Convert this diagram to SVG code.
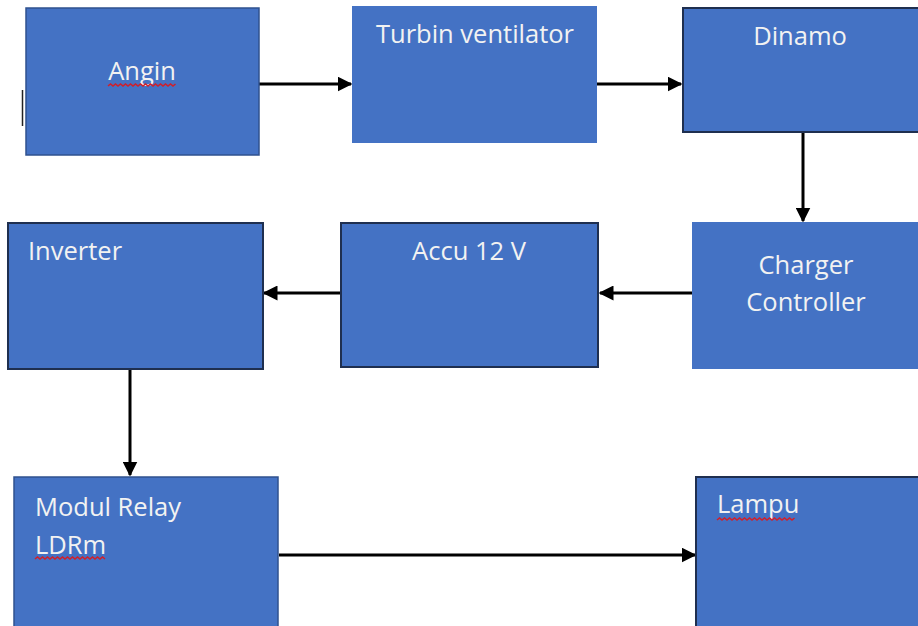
<svg xmlns="http://www.w3.org/2000/svg" width="918" height="626" viewBox="0 0 918 626">
<defs>
<style>
.box{fill:#4472C4}
.bd{stroke:#1f2f4f;stroke-width:2}
.bl{stroke:#2F528F;stroke-width:1.5}
.t{font-family:"Open Sans","Liberation Sans",sans-serif;font-size:25.5px;fill:#f2f2f2}
.c{stroke:#000;stroke-width:3;fill:none;marker-end:url(#ah)}
.sq{stroke:#d0202a;stroke-width:1.6;fill:none}
</style>
<marker id="ah" viewBox="0 0 10 10" refX="9" refY="5" markerWidth="5" markerHeight="5" orient="auto" markerUnits="strokeWidth">
<path d="M0,0 L10,5 L0,10 z" fill="#000"/>
</marker>
</defs>
<rect width="918" height="626" fill="#fff"/>
<line x1="22.5" y1="90" x2="22.5" y2="126" stroke="#222" stroke-width="1.5"/>
<g id="connectors">
<line class="c" x1="259" y1="84" x2="351" y2="84"/>
<line class="c" x1="597" y1="84" x2="681" y2="84"/>
<line class="c" x1="803" y1="133" x2="803" y2="221"/>
<line class="c" x1="692" y1="293" x2="600" y2="293"/>
<line class="c" x1="341" y1="293" x2="264" y2="293"/>
<line class="c" x1="130" y1="369" x2="130" y2="475"/>
<line class="c" x1="279" y1="555" x2="695" y2="555"/>
</g>
<g id="angin">
<rect class="box bl" x="26" y="8" width="233" height="147"/>
<text class="t" x="142" y="80" text-anchor="middle">Angin</text>
<path class="sq" d="M108,86 l2.5,-2 2.5,2 2.5,-2 2.5,2 2.5,-2 2.5,2 2.5,-2 2.5,2 2.5,-2 2.5,2 2.5,-2 2.5,2 2.5,-2 2.5,2 2.5,-2 2.5,2 2.5,-2 2.5,2 2.5,-2 2.5,2 2.5,-2 2.5,2 2.5,-2 2.5,2 2.5,-2 2.5,2 2.5,-2"/>
</g>
<g id="turbin">
<rect class="box" x="352" y="6" width="245" height="137"/>
<text class="t" x="475" y="43" text-anchor="middle">Turbin ventilator</text>
</g>
<g id="dinamo">
<rect class="box bd" x="683" y="8" width="240" height="124"/>
<text class="t" x="800" y="45" text-anchor="middle">Dinamo</text>
</g>
<g id="charger">
<rect class="box" x="692" y="222" width="230" height="147"/>
<text class="t" x="806" y="274" text-anchor="middle">Charger</text>
<text class="t" x="806" y="311" text-anchor="middle">Controller</text>
</g>
<g id="accu">
<rect class="box bd" x="341" y="223" width="257" height="144"/>
<text class="t" x="469" y="260" text-anchor="middle">Accu 12 V</text>
</g>
<g id="inverter">
<rect class="box bd" x="8" y="223" width="255" height="146"/>
<text class="t" x="28" y="260">Inverter</text>
</g>
<g id="modul">
<rect class="box bl" x="14" y="477" width="264" height="155"/>
<text class="t" x="35" y="516">Modul Relay</text>
<text class="t" x="35" y="554">LDRm</text>
<path class="sq" d="M35,559 l2.5,-2 2.5,2 2.5,-2 2.5,2 2.5,-2 2.5,2 2.5,-2 2.5,2 2.5,-2 2.5,2 2.5,-2 2.5,2 2.5,-2 2.5,2 2.5,-2 2.5,2 2.5,-2 2.5,2 2.5,-2 2.5,2 2.5,-2 2.5,2 2.5,-2 2.5,2 2.5,-2 2.5,2 2.5,-2 2.5,2"/>
</g>
<g id="lampu">
<rect class="box bd" x="696" y="477" width="230" height="155"/>
<text class="t" x="717" y="513">Lampu</text>
<path class="sq" d="M717,520 l2.5,-2 2.5,2 2.5,-2 2.5,2 2.5,-2 2.5,2 2.5,-2 2.5,2 2.5,-2 2.5,2 2.5,-2 2.5,2 2.5,-2 2.5,2 2.5,-2 2.5,2 2.5,-2 2.5,2 2.5,-2 2.5,2 2.5,-2 2.5,2 2.5,-2 2.5,2 2.5,-2 2.5,2 2.5,-2 2.5,2 2.5,-2 2.5,2 2.5,-2"/>
</g>
</svg>
